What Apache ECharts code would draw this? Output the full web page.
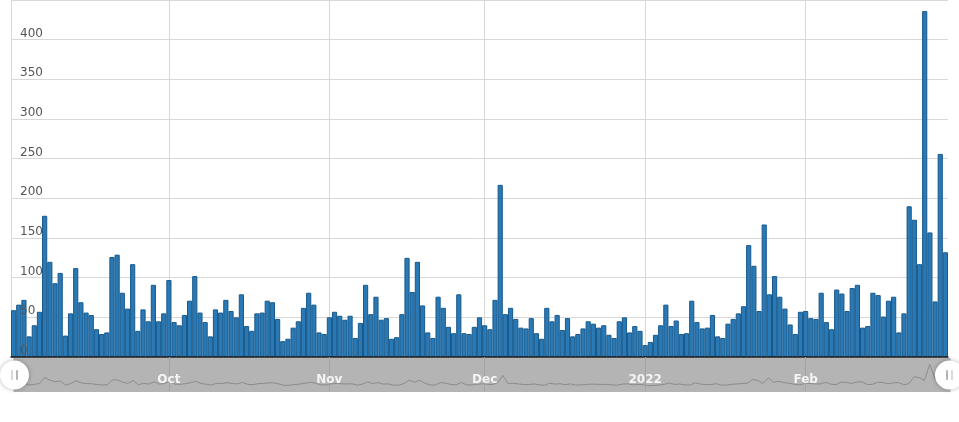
<!DOCTYPE html>
<html>
<head>
<meta charset="utf-8">
<script src="https://cdn.jsdelivr.net/npm/echarts@6/dist/echarts.min.js"></script>
<style>
html,body{margin:0;padding:0;background:#fff;}
#chart{width:959px;height:422px;}
</style>
</head>
<body>
<div id="chart"></div>
<script>
// Daily values, 2021-09-01 .. 2022-02-28
const startDate = '2021-09-01';
const values = [
  59,66,72,26,40,57,178,120,93,106,27,55,112,69,56,53,35,29,31,126,129,81,61,117,33,60,45,91,45,55,97,
  44,40,53,71,102,56,44,26,60,56,72,58,50,79,39,33,55,56,71,69,48,20,23,37,45,62,81,66,31,29,50,
  57,52,47,52,24,43,91,54,76,47,49,23,25,54,125,82,120,65,31,24,76,62,38,30,79,30,29,38,50,40,35,
  72,217,54,62,48,37,36,49,30,23,62,45,53,34,49,26,29,36,45,42,37,40,28,24,45,50,31,39,33,15,19,
  28,40,66,39,46,29,30,71,44,36,37,53,26,24,42,48,55,64,141,115,58,167,79,102,76,61,41,29,57,58,49,
  48,81,44,35,85,80,58,87,91,37,39,81,78,51,71,76,31,55,190,173,117,436,157,70,256,132
];
const tickDates = ['2021-10-01','2021-11-01','2021-12-01','2022-01-01','2022-02-01'];
const tickLabels = ['Oct','Nov','Dec','2022','Feb'];
const yTicks = [0,50,100,150,200,250,300,350,400,450];

// build category list of dates
const categories = [];
{
  const d0 = new Date(startDate + 'T00:00:00Z');
  for (let i = 0; i < values.length; i++) {
    const d = new Date(d0.getTime() + i * 86400000);
    categories.push(d.toISOString().slice(0, 10));
  }
}
const tickIdx = new Set(tickDates.map(d => categories.indexOf(d)));
const isTick = (i) => tickIdx.has(i);
const labelOf = (val) => { const k = tickDates.indexOf(val); return k >= 0 ? tickLabels[k] : ''; };

const handlePath = 'path://M0,-14 A14,14 0 1,0 0,14 A14,14 0 1,0 0,-14 Z ' +
  'M-3,-4.5 L-1.8,-4.5 L-1.8,4.5 L-3,4.5 Z M1.8,-4.5 L3,-4.5 L3,4.5 L1.8,4.5 Z';

const chart = echarts.init(document.getElementById('chart'), null, {renderer: 'canvas'});
chart.setOption({
  animation: false,
  backgroundColor: '#ffffff',
  textStyle: {fontFamily: 'DejaVu Sans'},
  grid: {left: 11, right: 11, top: 0, bottom: 65, containLabel: false},
  xAxis: [
    {
      type: 'category',
      data: categories,
      boundaryGap: true,
      z: 0,
      axisLine: {show: false},
      axisTick: {show: false},
      axisLabel: {show: false},
      splitLine: {
        show: true,
        alignWithLabel: true,
        interval: (i) => isTick(i),
        lineStyle: {color: '#d8d8d8', width: 1}
      }
    },
    {
      type: 'category',
      data: categories,
      position: 'bottom',
      boundaryGap: true,
      z: 10,
      axisLine: {show: true, lineStyle: {color: '#1a1a1a', width: 1.5}},
      axisTick: {
        show: true,
        alignWithLabel: true,
        interval: (i) => isTick(i),
        length: 34,
        lineStyle: {color: '#a3a3a3', width: 1}
      },
      axisLabel: {
        show: true,
        interval: (i) => isTick(i),
        formatter: (v) => labelOf(v),
        margin: 17,
        color: '#f4f4f4',
        fontWeight: 'bold',
        fontSize: 12,
        fontFamily: 'DejaVu Sans'
      },
      splitLine: {show: false}
    }
  ],
  yAxis: [
    {
      type: 'value',
      min: 0,
      max: 450,
      interval: 50,
      z: 0,
      axisLine: {show: true, lineStyle: {color: '#d8d8d8'}},
      axisTick: {show: false},
      axisLabel: {show: false},
      splitLine: {show: true, lineStyle: {color: '#d8d8d8', width: 1}}
    },
    {
      type: 'value',
      position: 'left',
      min: 0,
      max: 450,
      interval: 50,
      zlevel: 1,
      z: 10,
      axisLine: {show: false},
      axisTick: {show: false},
      splitLine: {show: false},
      axisLabel: {
        inside: true,
        margin: 9,
        align: 'left',
        verticalAlign: 'bottom',
        color: '#555',
        fontSize: 12,
        fontFamily: 'DejaVu Sans',
        formatter: (v) => (yTicks.indexOf(v) >= 0 && v < 450 ? String(v) : '')
      }
    }
  ],
  dataZoom: [{
    type: 'slider',
    xAxisIndex: 0,
    start: 0,
    end: 100,
    left: 11,
    right: 11,
    top: 358,
    height: 34,
    z: 4,
    backgroundColor: '#b4b4b4',
    fillerColor: 'rgba(0,0,0,0)',
    borderColor: 'rgba(0,0,0,0)',
    borderRadius: 0,
    showDetail: false,
    showDataShadow: true,
    brushSelect: false,
    moveHandleSize: 0,
    realtime: false,
    dataBackground: {
      lineStyle: {color: '#8c8c8c', width: 1, opacity: 1},
      areaStyle: {opacity: 0}
    },
    selectedDataBackground: {
      lineStyle: {color: '#8c8c8c', width: 1, opacity: 1},
      areaStyle: {opacity: 0}
    },
    handleIcon: handlePath,
    handleSize: 29,
    handleStyle: {
      color: '#ffffff',
      borderColor: 'rgba(0,0,0,0)',
      borderWidth: 0,
      shadowBlur: 4,
      shadowColor: 'rgba(0,0,0,0.3)'
    },
    emphasis: {handleStyle: {color: '#ffffff', borderColor: 'rgba(0,0,0,0)'}}
  }],
  series: [{
    type: 'bar',
    xAxisIndex: 0,
    yAxisIndex: 0,
    data: values,
    barCategoryGap: '0%',
    itemStyle: {
      color: '#2a79b4',
      borderColor: '#17598c',
      borderWidth: 1
    },
    emphasis: {disabled: true}
  }]
});
</script>
</body>
</html>
